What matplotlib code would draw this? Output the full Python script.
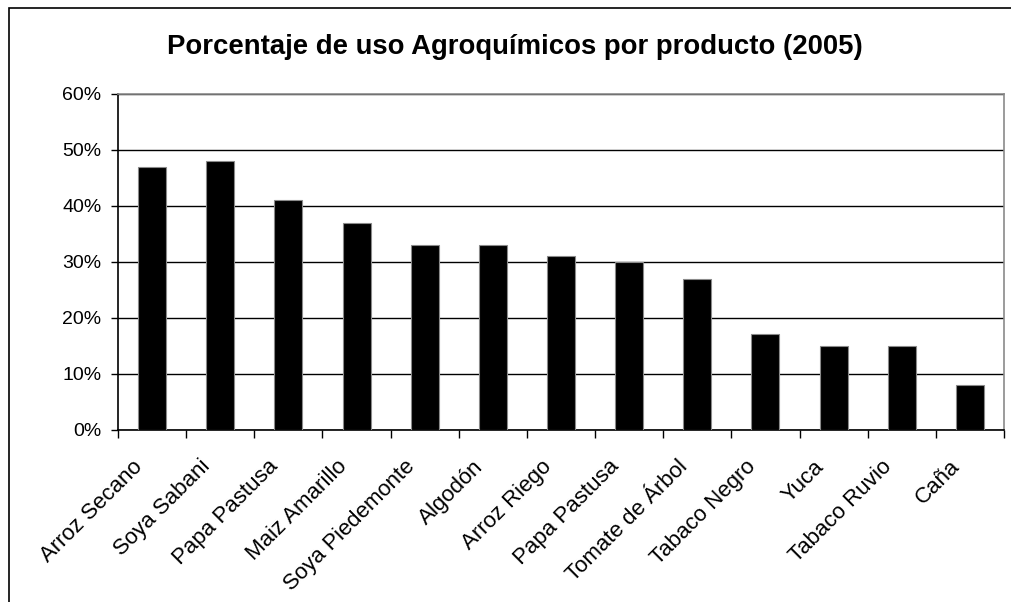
import matplotlib
matplotlib.use("Agg")
import matplotlib.pyplot as plt
from matplotlib.patches import Rectangle
from matplotlib.ticker import FuncFormatter, MultipleLocator
from matplotlib.transforms import ScaledTranslation
import numpy as np

plt.rcParams['font.family'] = ['Liberation Sans', 'DejaVu Sans']

productos = ["Arroz Secano", "Soya Sabani", "Papa Pastusa", "Maiz Amarillo",
             "Soya Piedemonte", "Algodón", "Arroz Riego", "Papa Pastusa",
             "Tomate de Árbol", "Tabaco Negro", "Yuca", "Tabaco Ruvio", "Caña"]
porcentajes = [47, 48, 41, 37, 33, 33, 31, 30, 27, 17, 15, 15, 8]
titulo = "Porcentaje de uso Agroquímicos por producto (2005)"

W, H = 1011, 602
fig = plt.figure(figsize=(W / 100, H / 100), dpi=100)
fig.patch.set_facecolor("white")

# outer frame of the chart area
fig.add_artist(Rectangle((8.5 / W, -0.1), 1.2, (H - 7.5) / H + 0.1,
                         transform=fig.transFigure, fill=False,
                         edgecolor="black", linewidth=1.2))

ax = fig.add_axes([118 / W, (H - 429.5) / H, (1004 - 118) / W, (429.5 - 94) / H])

x = np.arange(len(productos))
ax.bar(x, porcentajes, width=0.41, color="black", edgecolor="#8a8a8a",
       linewidth=0.8, zorder=3)

ax.set_xlim(-0.5, len(productos) - 0.5)
ax.set_ylim(0, 60)
ax.yaxis.set_major_locator(MultipleLocator(10))
ax.yaxis.set_major_formatter(FuncFormatter(lambda v, _: f"{int(v)}%"))
ax.yaxis.grid(True, color="black", linewidth=1.0, zorder=0)
ax.set_axisbelow(True)

# category ticks sit between bars
ax.set_xticks(np.arange(len(productos) + 1) - 0.5)
ax.set_xticklabels([])
ax.tick_params(axis="x", direction="out", length=6, width=1, color="black")
ax.tick_params(axis="y", direction="out", length=5, width=1, color="black",
               labelsize=14, pad=7)

# rotated category labels below each bar
offset = ScaledTranslation(-13 / 100, -34 / 100, fig.dpi_scale_trans)
for xi, nombre in zip(x, productos):
    ax.text(xi, 0, nombre, transform=ax.get_xaxis_transform() + offset,
            rotation=45, ha="right", va="center", rotation_mode="anchor",
            fontsize=16)

for side in ("top", "right"):
    ax.spines[side].set_color("#8a8a8a")
    ax.spines[side].set_linewidth(1.2)
for side in ("left", "bottom"):
    ax.spines[side].set_color("black")
    ax.spines[side].set_linewidth(1.2)

fig.text(515 / W, 1 - 54 / H, titulo, ha="center", va="baseline",
         fontsize=19.8, fontweight="bold")

fig.savefig("out.png", dpi=100, facecolor="white")
